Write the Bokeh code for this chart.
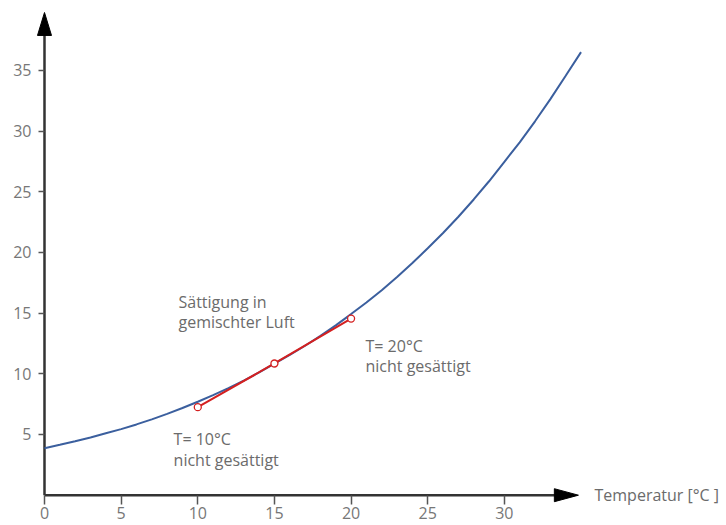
from bokeh.plotting import figure
from bokeh.models import Range1d, FixedTicker, ColumnDataSource
from bokeh.core.properties import value
from bokeh.embed import file_html
from bokeh.resources import INLINE

# --- data ---
temperature = [0, 1, 2, 3, 4, 5, 6, 7, 8, 9, 10, 11, 12, 13, 14, 15, 16, 17, 18,
               19, 20, 21, 22, 23, 24, 25, 26, 27, 28, 29, 30, 31, 32, 33, 34, 35]
saturation = [3.87, 4.15, 4.44, 4.76, 5.10, 5.44, 5.83, 6.25, 6.70, 7.18, 7.70,
              8.24, 8.82, 9.44, 10.11, 10.83, 11.55, 12.31, 13.12, 13.99, 14.92,
              15.87, 16.89, 17.97, 19.12, 20.34, 21.60, 22.94, 24.36, 25.86, 27.46,
              29.07, 30.80, 32.63, 34.55, 36.5]

mix_temperature = [10, 15, 20]
mix_value = [7.25, 10.85, 14.55]

x_ticks = [0, 5, 10, 15, 20, 25, 30]
y_ticks = [5, 10, 15, 20, 25, 30, 35]
x_title = "Temperatur [°C ]"

note_text = ["Sättigung in", "gemischter Luft", "T= 20°C", "nicht gesättigt", "T= 10°C", "nicht gesättigt"]
note_x = [8.74, 8.74, 20.94, 20.94, 8.42, 8.42]
note_y = [15.9, 14.25, 12.33, 10.68, 4.65, 2.93]

# --- layout constants ---
X_END = 34.83   # arrow tip of x axis
Y_END = 39.76   # arrow tip of y axis
X_HEAD_LEN, X_HEAD_HALF = 1.57, 0.535
Y_HEAD_LEN, Y_HEAD_HALF = 1.89, 0.457
AXIS_COLOR = "#333333"
FONT = "Open Sans"

p = figure(width=726, height=525, output_backend="svg", toolbar_location=None,
           x_range=Range1d(-2.870, 44.49), y_range=Range1d(-2.496, 40.75),
           min_border_left=0, min_border_right=0, min_border_top=0, min_border_bottom=0)
p.outline_line_color = None
p.xgrid.visible = False
p.ygrid.visible = False
p.background_fill_color = "white"

for ax, ticks, tick_out in ((p.xaxis, x_ticks, 9), (p.yaxis, y_ticks, 6)):
    ax.fixed_location = 0
    ax.ticker = FixedTicker(ticks=ticks)
    ax.axis_line_color = None
    ax.major_tick_in = 0
    ax.major_tick_out = tick_out
    ax.major_tick_line_color = "#555555"
    ax.major_tick_line_width = 1.5
    ax.minor_tick_line_color = None
    ax.major_label_text_font = FONT
    ax.major_label_text_font_size = "16px"
    ax.major_label_text_color = "#777777"
p.xaxis.major_label_standoff = 3
p.yaxis.major_label_standoff = 7

# axis arrows
p.line([0, X_END - X_HEAD_LEN * 0.5], [0, 0], line_color=AXIS_COLOR, line_width=2.5)
p.line([0, 0], [0, Y_END - Y_HEAD_LEN * 0.5], line_color=AXIS_COLOR, line_width=2.5)
p.patch([X_END - X_HEAD_LEN, X_END, X_END - X_HEAD_LEN], [X_HEAD_HALF, 0, -X_HEAD_HALF],
        fill_color="black", line_color="black", line_width=1)
p.patch([-Y_HEAD_HALF, 0, Y_HEAD_HALF], [Y_END - Y_HEAD_LEN, Y_END, Y_END - Y_HEAD_LEN],
        fill_color="black", line_color="black", line_width=1)

# saturation curve
p.line(temperature, saturation, line_color="#3b5f9e", line_width=2)

# mixing line
p.line(mix_temperature, mix_value, line_color="#d42020", line_width=2)
p.scatter(mix_temperature, mix_value, size=7, marker="circle",
          line_color="#d42020", fill_color="white", line_width=1.3)

# notes
src = ColumnDataSource(dict(x=note_x, y=note_y, text=note_text))
p.text(x="x", y="y", text="text", source=src, text_font=value(FONT),
       text_font_size="16px", text_color="#6b6b6b", text_baseline="middle", text_align="left")

p.text(x=[X_END + 1.05], y=[0], text=[x_title], text_font=value(FONT),
       text_font_size="16px", text_color="#6b6b6b", text_baseline="middle", text_align="left")

open("out.html", "w").write(file_html(p, INLINE))
